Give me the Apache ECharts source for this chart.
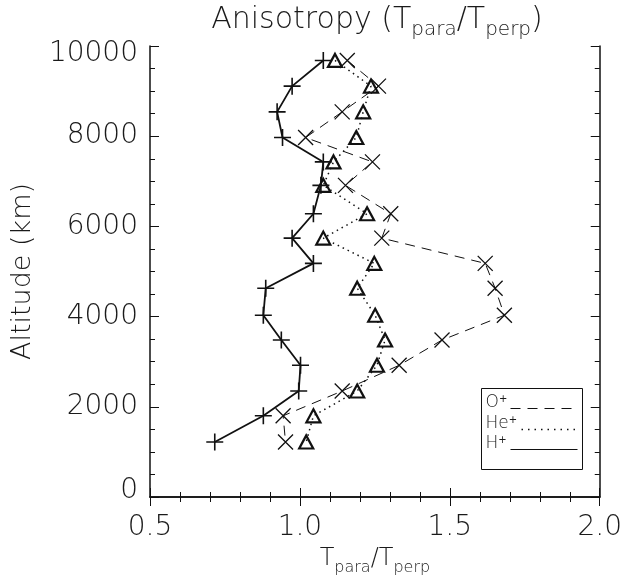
<!DOCTYPE html>
<html>
<head>
<meta charset="utf-8">
<script src="https://cdn.jsdelivr.net/npm/echarts@6/dist/echarts.min.js"></script>
<style>
  html, body { margin: 0; padding: 0; background: #fff; }
  #chart { width: 625px; height: 583px; }
</style>
</head>
<body>
<div id="chart"></div>
<script>
// altitude bins (km), shared by the three ions
const altitude = [9680, 9110, 8540, 7970, 7430, 6910, 6280, 5740, 5180, 4630, 4030, 3480, 2920, 2350, 1800, 1220];
// Tpara/Tperp per ion
const oPlus  = [1.158, 1.262, 1.141, 1.019, 1.242, 1.152, 1.303, 1.273, 1.618, 1.651, 1.682, 1.474, 1.331, 1.141, 0.944, 0.952];
const hePlus = [1.117, 1.237, 1.211, 1.188, 1.112, 1.078, 1.224, 1.078, 1.248, 1.191, 1.251, 1.284, 1.257, 1.191, 1.045, 1.021];
const hPlus  = [1.078, 0.974, 0.924, 0.942, 1.078, 1.070, 1.045, 0.974, 1.045, 0.886, 0.878, 0.938, 1.002, 0.996, 0.878, 0.716];
const xTicks = [0.5, 1.0, 1.5, 2.0];
const yTicks = [0, 2000, 4000, 6000, 8000, 10000];

const FONT = "'DejaVu Sans ExtraLight', 'DejaVu Sans'";
const INK = "#111";
const TXT = "#1a1a1a";

const chart = echarts.init(document.getElementById("chart"));

function pairs(xs) {
  return xs.map((x, i) => [x, altitude[i]]);
}

const symStyle = (w) => ({ color: "rgba(0,0,0,0)", borderColor: INK, borderWidth: w });

function axisCommon(extra) {
  return Object.assign({
    type: "value",
    axisLine: { show: true, lineStyle: { color: INK, width: 1.5 } },
    axisTick: { show: true, inside: true, length: 9, lineStyle: { color: INK, width: 1 } },
    splitLine: { show: false },
    minorSplitLine: { show: false },
  }, extra);
}

const xRange = { min: xTicks[0], max: xTicks[xTicks.length - 1], interval: 0.5 };
const yRange = { min: yTicks[0], max: yTicks[yTicks.length - 1], interval: 2000 };
const lbl = { fontFamily: FONT, fontSize: 28, fontWeight: 200, color: TXT };

let option = {
  animation: false,
  backgroundColor: "#fff",
  title: {
    text: "{n|Anisotropy (T}{s|para}{n|/T}{s|perp}{n|)}",
    left: 377,
    textAlign: "center",
    top: 0,
    padding: 0,
    textStyle: {
      rich: {
        n: { fontFamily: FONT, fontSize: 30, fontWeight: 200, color: TXT, lineHeight: 40 },
        s: { fontFamily: FONT, fontSize: 20, fontWeight: 200, color: TXT, lineHeight: 13, verticalAlign: "bottom" },
      },
    },
  },
  grid: { left: 150, right: 19, top: 46, bottom: 86 },
  xAxis: [
    axisCommon(Object.assign({
      position: "bottom",
      name: "{n|T}{s|para}{n|/T}{s|perp}",
      nameLocation: "middle",
      nameGap: 43,
      nameTextStyle: {
        rich: {
          n: { fontFamily: FONT, fontSize: 24, fontWeight: 200, color: TXT, lineHeight: 34 },
          s: { fontFamily: FONT, fontSize: 16, fontWeight: 200, color: TXT, lineHeight: 10, verticalAlign: "bottom" },
        },
      },
      minorTick: { show: true, splitNumber: 5, length: 5, lineStyle: { color: INK, width: 1 } },
      axisLabel: Object.assign({ margin: 17, formatter: (v) => v.toFixed(1) }, lbl),
    }, xRange)),
    axisCommon(Object.assign({
      position: "top",
      minorTick: { show: true, splitNumber: 5, length: 5, lineStyle: { color: INK, width: 1 } },
      axisLabel: { show: false },
    }, xRange)),
  ],
  yAxis: [
    axisCommon(Object.assign({
      position: "left",
      name: "Altitude (km)",
      nameLocation: "middle",
      nameGap: 101,
      nameRotate: 90,
      nameTextStyle: { fontFamily: FONT, fontSize: 27, fontWeight: 200, color: TXT, lineHeight: 30 },
      minorTick: { show: true, splitNumber: 4, length: 5, lineStyle: { color: INK, width: 1 } },
      axisLabel: Object.assign({
        margin: 12,
        formatter: (v) => v === yRange.max ? "{t|" + v + "}" : (v === yRange.min ? "{b|" + v + "}" : String(v)),
        rich: {
          t: Object.assign({ padding: [16, 0, 0, 0] }, lbl),
          b: Object.assign({ padding: [0, 0, 12, 0] }, lbl),
        },
      }, lbl),
    }, yRange)),
    axisCommon(Object.assign({
      position: "right",
      minorTick: { show: true, splitNumber: 4, length: 5, lineStyle: { color: INK, width: 1 } },
      axisLabel: { show: false },
    }, yRange)),
  ],
  series: [
    {
      name: "O+",
      type: "line",
      data: pairs(oPlus),
      symbol: "path://M0,0 L10,10 M10,0 L0,10",
      symbolSize: 15,
      itemStyle: symStyle(1.3),
      lineStyle: { color: INK, width: 1, type: [10, 7] },
      emphasis: { disabled: true },
      z: 3,
    },
    {
      name: "He+",
      type: "line",
      data: pairs(hePlus),
      symbol: "path://M7,0 L14,12 L0,12 Z",
      symbolSize: [14, 13],
      itemStyle: symStyle(2.2),
      lineStyle: { color: INK, width: 1.5, type: [1.5, 4] },
      emphasis: { disabled: true },
      z: 4,
    },
    {
      name: "H+",
      type: "line",
      data: pairs(hPlus),
      symbol: "path://M5,0 L5,10 M0,5 L10,5",
      symbolSize: 17,
      itemStyle: symStyle(1.6),
      lineStyle: { color: INK, width: 1.8 },
      emphasis: { disabled: true },
      z: 5,
    },
  ],
  graphic: [
    {
      type: "group",
      left: 481,
      top: 388,
      children: [
        { type: "rect", shape: { x: 0, y: 0, width: 101, height: 81 }, style: { fill: "#fff", stroke: INK, lineWidth: 1 } },
        { type: "text", x: 4, y: 14, style: { text: "O{p|+}", fontFamily: FONT, fontSize: 17, fontWeight: 200, fill: TXT, verticalAlign: "middle",
            rich: { p: { fontFamily: FONT, fontSize: 10, fill: TXT, verticalAlign: "top", lineHeight: 17 } } } },
        { type: "line", shape: { x1: 29, y1: 20, x2: 96, y2: 20 }, style: { stroke: INK, lineWidth: 1, lineDash: [10, 7] } },
        { type: "text", x: 4, y: 35, style: { text: "He{p|+}", fontFamily: FONT, fontSize: 17, fontWeight: 200, fill: TXT, verticalAlign: "middle",
            rich: { p: { fontFamily: FONT, fontSize: 10, fill: TXT, verticalAlign: "top", lineHeight: 17 } } } },
        { type: "line", shape: { x1: 40, y1: 41, x2: 96, y2: 41 }, style: { stroke: INK, lineWidth: 1.5, lineDash: [1.5, 5] } },
        { type: "text", x: 4, y: 55, style: { text: "H{p|+}", fontFamily: FONT, fontSize: 17, fontWeight: 200, fill: TXT, verticalAlign: "middle",
            rich: { p: { fontFamily: FONT, fontSize: 10, fill: TXT, verticalAlign: "top", lineHeight: 17 } } } },
        { type: "line", shape: { x1: 29, y1: 61, x2: 96, y2: 61 }, style: { stroke: INK, lineWidth: 1.2 } },
      ],
    },
  ],
};

chart.setOption(option);
</script>
</body>
</html>
